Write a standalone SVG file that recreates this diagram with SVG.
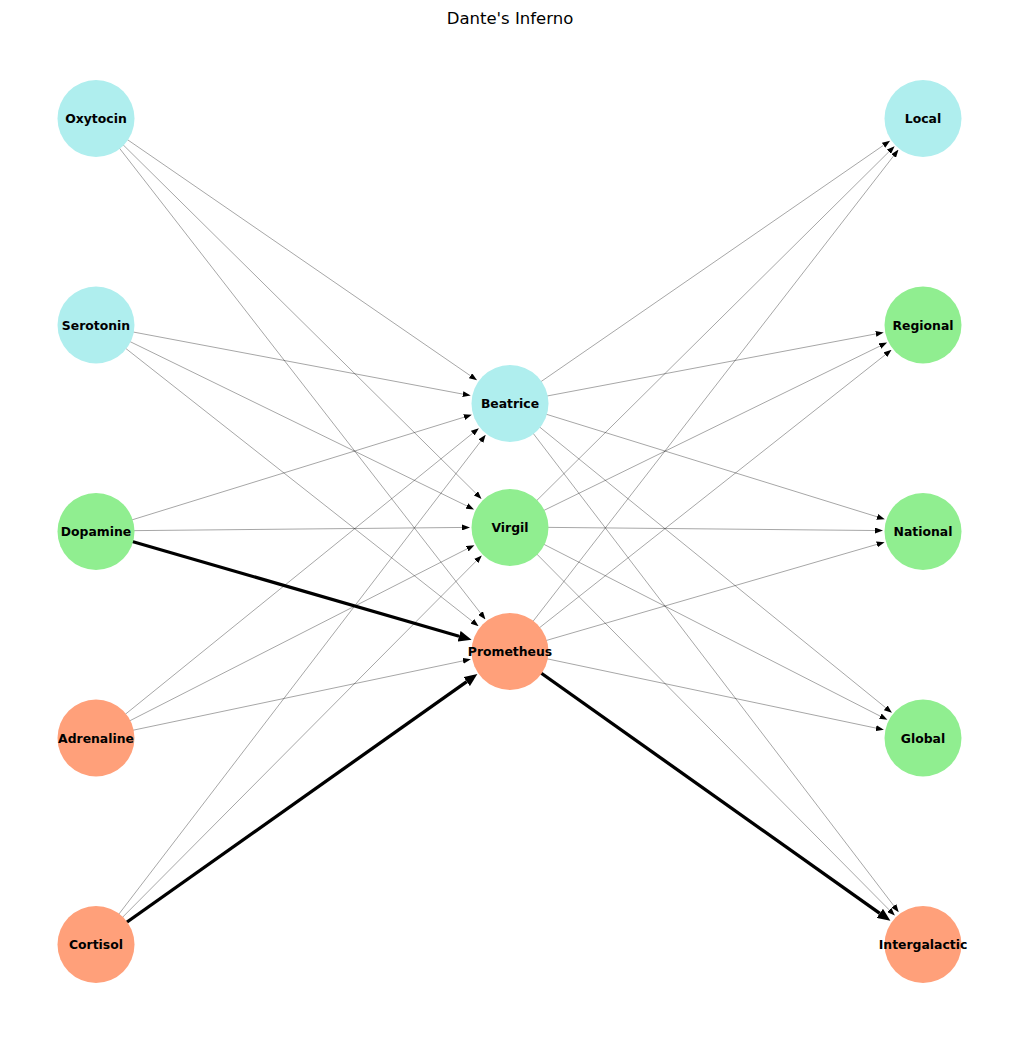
<svg xmlns="http://www.w3.org/2000/svg" width="1019" height="1042" viewBox="0 0 1019 1042">
<style>
.e{stroke:#000;stroke-width:0.5;stroke-opacity:0.7;fill:none;marker-end:url(#ah)}
.t{stroke:#000;stroke-width:3.3;fill:none;marker-end:url(#ahb)}
.b{fill:#AFEEEE}
.g{fill:#90EE90}
.s{fill:#FFA07A}
.l{font-family:"DejaVu Sans",sans-serif;font-weight:bold;font-size:12.4px;text-anchor:middle;fill:#000}
.title{font-family:"DejaVu Sans",sans-serif;font-size:16.5px;text-anchor:middle;fill:#000}
</style>
<defs>
<marker id="ah" markerUnits="userSpaceOnUse" markerWidth="8" markerHeight="6" refX="0" refY="3" orient="auto"><path d="M0,0 L8,3 L0,6 z" fill="#000"/></marker>
<marker id="ahb" markerUnits="userSpaceOnUse" markerWidth="13" markerHeight="11" refX="0" refY="5.5" orient="auto"><path d="M0,0 L13,5.5 L0,11 z" fill="#000"/></marker>
</defs>
<rect width="1019" height="1042" fill="#fff"/>
<text class="title" x="510" y="24">Dante's Inferno</text>
<g id="connectors">
<line class="e" x1="96" y1="118" x2="470.46" y2="375.78"/>
<line class="e" x1="96" y1="118" x2="475.85" y2="493.27"/>
<line class="e" x1="96" y1="118" x2="480.55" y2="613.09"/>
<line class="e" x1="96" y1="325" x2="462.83" y2="394.11"/>
<line class="e" x1="96" y1="325" x2="466.86" y2="505.95"/>
<line class="e" x1="96" y1="325" x2="472.29" y2="621.30"/>
<line class="e" x1="96" y1="531" x2="464.14" y2="417.18"/>
<line class="e" x1="96" y1="531" x2="462.0" y2="527.46"/>
<line class="t" x1="96" y1="531" x2="459.09" y2="636.24"/>
<line class="e" x1="96" y1="738" x2="472.68" y2="433.19"/>
<line class="e" x1="96" y1="738" x2="467.23" y2="548.79"/>
<line class="e" x1="96" y1="738" x2="463.03" y2="660.88"/>
<line class="e" x1="96" y1="944" x2="480.83" y2="441.12"/>
<line class="e" x1="96" y1="944" x2="476.18" y2="561.07"/>
<line class="t" x1="96" y1="944" x2="466.74" y2="681.62"/>
<line class="e" x1="510" y1="403" x2="883.50" y2="145.26"/>
<line class="e" x1="510" y1="403" x2="875.84" y2="333.90"/>
<line class="e" x1="510" y1="403" x2="877.15" y2="516.79"/>
<line class="e" x1="510" y1="403" x2="885.73" y2="707.76"/>
<line class="e" x1="510" y1="403" x2="893.88" y2="905.84"/>
<line class="e" x1="510" y1="527" x2="888.90" y2="151.78"/>
<line class="e" x1="510" y1="527" x2="879.88" y2="346.10"/>
<line class="e" x1="510" y1="527" x2="875.0" y2="530.53"/>
<line class="e" x1="510" y1="527" x2="880.26" y2="716.16"/>
<line class="e" x1="510" y1="527" x2="889.22" y2="909.90"/>
<line class="e" x1="510" y1="651" x2="893.60" y2="155.94"/>
<line class="e" x1="510" y1="651" x2="885.32" y2="354.74"/>
<line class="e" x1="510" y1="651" x2="876.91" y2="544.39"/>
<line class="e" x1="510" y1="651" x2="876.03" y2="728.11"/>
<line class="t" x1="510" y1="651" x2="879.78" y2="913.34"/>
</g>
<g id="Oxytocin"><circle class="b" cx="96" cy="118.5" r="38.5"/><text class="l" x="96" y="123">Oxytocin</text></g>
<g id="Serotonin"><circle class="b" cx="96" cy="325" r="38.5"/><text class="l" x="96" y="329.5">Serotonin</text></g>
<g id="Dopamine"><circle class="g" cx="96" cy="531.5" r="38.5"/><text class="l" x="96" y="536">Dopamine</text></g>
<g id="Adrenaline"><circle class="s" cx="96" cy="738" r="38.5"/><text class="l" x="96" y="742.5">Adrenaline</text></g>
<g id="Cortisol"><circle class="s" cx="96" cy="944.5" r="38.5"/><text class="l" x="96" y="949">Cortisol</text></g>
<g id="Beatrice"><circle class="b" cx="510" cy="403.5" r="38.5"/><text class="l" x="510" y="408">Beatrice</text></g>
<g id="Virgil"><circle class="g" cx="510" cy="527.5" r="38.5"/><text class="l" x="510" y="532">Virgil</text></g>
<g id="Prometheus"><circle class="s" cx="510" cy="651.5" r="38.5"/><text class="l" x="510" y="656">Prometheus</text></g>
<g id="Local"><circle class="b" cx="923" cy="118.5" r="38.5"/><text class="l" x="923" y="123">Local</text></g>
<g id="Regional"><circle class="g" cx="923" cy="325" r="38.5"/><text class="l" x="923" y="329.5">Regional</text></g>
<g id="National"><circle class="g" cx="923" cy="531.5" r="38.5"/><text class="l" x="923" y="536">National</text></g>
<g id="Global"><circle class="g" cx="923" cy="738" r="38.5"/><text class="l" x="923" y="742.5">Global</text></g>
<g id="Intergalactic"><circle class="s" cx="923" cy="944.5" r="38.5"/><text class="l" x="923" y="949">Intergalactic</text></g>
</svg>
